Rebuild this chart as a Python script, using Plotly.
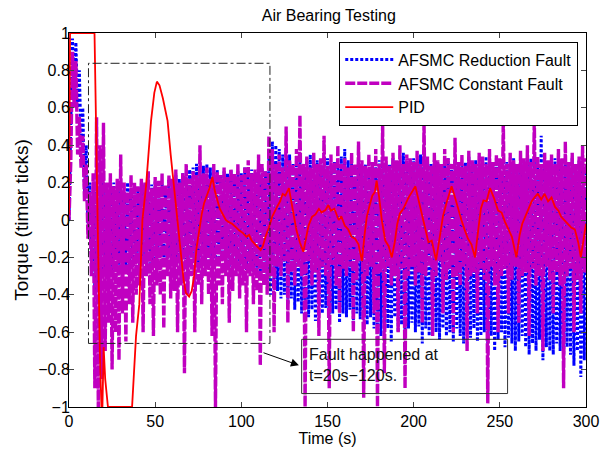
import plotly.graph_objects as go

# ---------------- data ----------------
# Noisy AFSMC series: upper excursions at even seconds, lower excursions at odd seconds
blue_hi = [0.0, 0.97, 0.95, 0.8, 0.6, 0.4, 0.2, 0.05, 0.15, 0.18,
           0.2, 0.15, 0.18, 0.2, 0.16, 0.19, 0.15, 0.2, 0.17, 0.18,
           0.16, 0.2, 0.18, 0.15, 0.19, 0.21, 0.17, 0.2, 0.18, 0.22,
           0.2, 0.24, 0.22, 0.25, 0.23, 0.27, 0.28, 0.3, 0.26, 0.29,
           0.3, 0.28, 0.25, 0.27, 0.24, 0.26, 0.25, 0.27, 0.24, 0.26,
           0.25, 0.28, 0.26, 0.27, 0.25, 0.3, 0.28, 0.26, 0.38, 0.42,
           0.4, 0.38, 0.35, 0.33, 0.35, 0.3, 0.32, 0.34, 0.3, 0.33,
           0.35, 0.3, 0.32, 0.28, 0.3, 0.33, 0.29, 0.31, 0.3, 0.34,
           0.38, 0.32, 0.3, 0.29, 0.31, 0.28, 0.3, 0.25, 0.27, 0.3,
           0.32, 0.3, 0.28, 0.3, 0.33, 0.31, 0.3, 0.36, 0.3, 0.32,
           0.33, 0.3, 0.35, 0.37, 0.34, 0.3, 0.32, 0.3, 0.29, 0.31,
           0.33, 0.3, 0.32, 0.28, 0.3, 0.31, 0.34, 0.3, 0.32, 0.3,
           0.31, 0.34, 0.32, 0.3, 0.33, 0.3, 0.32, 0.31, 0.3, 0.33,
           0.3, 0.35, 0.32, 0.3, 0.33, 0.31, 0.3, 0.45, 0.32, 0.3,
           0.31, 0.33, 0.3, 0.32, 0.3, 0.31, 0.33, 0.3, 0.32, 0.31,
           0.3]
blue_lo = [0.5, 0.7, 0.6, 0.4, 0.15, -0.05, -0.2, -0.38, -0.35, -0.3,
           -0.28, -0.25, -0.3, -0.27, -0.24, -0.3, -0.26, -0.28, -0.25, -0.22,
           -0.24, -0.22, -0.2, -0.25, -0.22, -0.24, -0.2, -0.23, -0.21, -0.2,
           -0.22, -0.2, -0.24, -0.21, -0.23, -0.2, -0.22, -0.25, -0.2, -0.23,
           -0.22, -0.25, -0.21, -0.24, -0.2, -0.23, -0.25, -0.22, -0.26, -0.24,
           -0.25, -0.27, -0.24, -0.28, -0.26, -0.3, -0.28, -0.35, -0.4, -0.35,
           -0.38, -0.42, -0.4, -0.45, -0.42, -0.48, -0.44, -0.5, -0.46, -0.52,
           -0.48, -0.54, -0.45, -0.5, -0.47, -0.52, -0.5, -0.48, -0.55, -0.5,
           -0.52, -0.48, -0.55, -0.5, -0.53, -0.49, -0.56, -0.52, -0.58, -0.6,
           -0.62, -0.55, -0.58, -0.65, -0.52, -0.6, -0.56, -0.62, -0.58, -0.55,
           -0.6, -0.57, -0.66, -0.58, -0.62, -0.56, -0.6, -0.64, -0.58, -0.62,
           -0.6, -0.65, -0.58, -0.62, -0.66, -0.6, -0.63, -0.58, -0.65, -0.62,
           -0.6, -0.66, -0.62, -0.7, -0.64, -0.6, -0.68, -0.63, -0.66, -0.7,
           -0.65, -0.62, -0.68, -0.72, -0.66, -0.7, -0.64, -0.75, -0.68, -0.7,
           -0.72, -0.66, -0.7, -0.75, -0.68, -0.72, -0.78, -0.7, -0.84, -0.75]

mag_hi = [0.0, 0.9, 0.85, 0.55, 0.45, 0.3, 0.15, 0.25, 0.55, 0.4,
          0.52, 0.2, 0.25, 0.18, 0.22, 0.35, 0.2, 0.15, 0.24, 0.2,
          0.18, 0.22, 0.2, 0.26, 0.17, 0.23, 0.21, 0.25, 0.19, 0.24,
          0.22, 0.27, 0.2, 0.25, 0.3, 0.22, 0.26, 0.24, 0.4, 0.25,
          0.28, 0.22, 0.3, 0.26, 0.24, 0.28, 0.23, 0.27, 0.25, 0.3,
          0.24, 0.28, 0.32, 0.25, 0.27, 0.35, 0.3, 0.26, 0.45, 0.38,
          0.3, 0.35, 0.28, 0.5, 0.32, 0.3, 0.38, 0.56, 0.3, 0.34,
          0.28, 0.36, 0.3, 0.33, 0.45, 0.29, 0.35, 0.31, 0.4, 0.3,
          0.33, 0.28, 0.36, 0.3, 0.42, 0.32, 0.29, 0.35, 0.31, 0.38,
          0.3, 0.52, 0.34, 0.29, 0.36, 0.32, 0.4, 0.3, 0.35, 0.33,
          0.31, 0.37, 0.3, 0.53, 0.34, 0.29, 0.36, 0.32, 0.3, 0.38,
          0.33, 0.3, 0.44, 0.31, 0.35, 0.29, 0.37, 0.32, 0.3, 0.36,
          0.34, 0.3, 0.38, 0.31, 0.35, 0.33, 0.54, 0.3, 0.36, 0.32,
          0.3, 0.37, 0.33, 0.4, 0.31, 0.55, 0.34, 0.3, 0.36, 0.32,
          0.35, 0.3, 0.38, 0.33, 0.42, 0.31, 0.36, 0.3, 0.34, 0.4,
          0.33]
mag_lo = [0.3, 0.6, 0.35, 0.28, 0.1, -0.1, -0.3, -0.9, -1.0, -0.85,
          -0.7, -0.55, -0.8, -0.6, -0.75, -0.5, -0.65, -0.45, -0.55, -0.4,
          -0.35, -0.6, -0.3, -0.45, -0.62, -0.35, -0.4, -0.58, -0.3, -0.42,
          -0.38, -0.6, -0.35, -0.82, -0.4, -0.3, -0.6, -0.35, -0.45, -0.3,
          -0.4, -0.62, -1.0, -0.35, -0.45, -0.3, -0.55, -0.38, -0.3, -0.42,
          -0.35, -0.6, -0.3, -0.45, -0.38, -0.78, -0.35, -0.4, -0.3, -0.6,
          -0.25, -0.3, -0.22, -0.55, -0.28, -0.35, -0.25, -0.3, -1.0, -0.22,
          -0.35, -0.28, -0.62, -0.25, -0.3, -0.9, -0.24, -0.35, -0.5, -0.26,
          -0.3, -0.25, -0.6, -0.32, -0.22, -0.95, -0.3, -0.25, -0.5, -1.0,
          -0.28, -0.82, -0.25, -0.35, -0.3, -0.6, -0.26, -0.9, -0.3, -0.25,
          -0.35, -0.28, -0.55, -0.3, -0.25, -0.62, -0.3, -0.22, -0.5, -0.32,
          -0.26, -0.6, -0.3, -0.35, -0.25, -0.7, -0.3, -0.28, -0.5, -0.26,
          -0.32, -0.98, -0.25, -0.35, -0.6, -0.3, -0.26, -0.5, -0.32, -0.25,
          -0.55, -0.3, -0.28, -0.62, -0.26, -0.35, -0.3, -0.7, -0.25, -0.32,
          -0.5, -0.28, -0.35, -0.9, -0.3, -0.26, -0.6, -0.32, -0.5, -0.28]

pid_t = [0, 0.6, 14.8, 15.7, 16.8, 17.9, 18.8, 19.4, 20.1, 21.0, 22.6, 36.6, 38.9, 40.8,
         42.6, 44.7, 47.6, 49.5, 51.0, 52.5, 54.5, 57.2, 59, 61, 63, 64.9, 66.5, 67.8,
         69.7, 71.2, 72.6, 74, 75.5, 77, 78.4, 80, 81.5, 83.2, 84.5, 86.1, 87.5, 89, 91,
         92.5, 94.6, 96.5, 98.7, 101, 103, 104.5, 106, 108, 110, 111.2, 112.5, 114, 116,
         118, 120.7, 122.5, 124, 125.5, 127.6, 129, 130.5, 132, 134, 136, 137.5, 139, 141,
         143, 145, 146.5, 148.8, 150.5, 152, 154, 156.5, 158, 160, 162, 164, 166, 168, 170,
         171.5, 172.8, 174.5, 176, 177.5, 178.5, 180, 181.5, 183.5, 185.5, 187.3, 189,
         190.5, 192, 194, 195.5, 197, 199, 201, 203, 205, 207, 208.6, 210.5, 213, 215, 217,
         219, 220.5, 222, 224, 226, 227.7, 229.5, 231.5, 233.5, 235.6, 237.5, 239, 240.5,
         242.3, 244.3, 246.5, 249, 251, 253, 255, 257, 259.6, 261.5, 263, 264.6, 266.5,
         268.5, 270.4, 272, 274, 276, 278, 280, 282, 284, 285.6, 287.5, 289.5, 291.4,
         293.5, 295.5, 297, 299.3, 300]
pid_y = [0.03, 1.0, 1.0, 0.5, -0.2, -0.7, -1.0, -1.0, -0.68, -0.85, -1.0, -1.0, -0.62, -0.45,
         0.0, 0.18, 0.53, 0.68, 0.74, 0.72, 0.65, 0.53, 0.35, 0.18, 0.0, -0.18, -0.32, -0.39,
         -0.41, -0.38, -0.3, -0.15, -0.055, 0.03, 0.09, 0.13, 0.17, 0.23, 0.16, 0.106, 0.06,
         0.035, 0.0, -0.01, -0.02, -0.035, -0.055, -0.07, -0.09, -0.08, -0.11, -0.13, -0.15,
         -0.16, -0.14, -0.09, -0.04, 0.02, 0.07, 0.1, 0.14, 0.13, 0.17, 0.1, 0.02, -0.055,
         -0.12, -0.17, -0.1, -0.03, 0.017, 0.03, 0.06, 0.04, 0.053, 0.08, 0.05, 0.06, 0.0,
         0.02, -0.03, -0.05, -0.09, -0.1, -0.13, -0.22, -0.08, 0.017, 0.08, 0.13, 0.15, 0.21,
         0.12, 0.0, -0.11, -0.14, -0.2, -0.12, -0.02, 0.035, 0.06, 0.09, 0.12, 0.15, 0.18,
         0.1, 0.02, -0.06, -0.12, -0.11, -0.215, -0.1, 0.02, 0.09, 0.14, 0.18, 0.12, 0.05,
         0.0, -0.05, -0.1, -0.13, -0.2, -0.05, 0.06, 0.105, 0.1, 0.17, 0.12, 0.05, 0.04,
         -0.01, -0.055, -0.09, -0.2, -0.08, -0.02, 0.017, 0.06, 0.1, 0.124, 0.14, 0.11, 0.14,
         0.1, 0.12, 0.07, 0.05, 0.017, 0.0, -0.02, -0.04, -0.05, -0.12, -0.2, -0.055, -0.02]

x_ticks = [0, 50, 100, 150, 200, 250, 300]
y_ticks = [-1, -0.8, -0.6, -0.4, -0.2, 0, 0.2, 0.4, 0.6, 0.8, 1]
y_tick_text = ["\u22121", "\u22120.8", "\u22120.6", "\u22120.4", "\u22120.2", "0",
               "0.2", "0.4", "0.6", "0.8", "1"]

# zoom box (dash-dot) and note box, in data units
zoom_box = dict(x0=11.3, x1=116.6, y0=-0.66, y1=0.838)
note_box = dict(x0=135, x1=254.5, y0=-0.928, y1=-0.638)


def interleave(hi, lo):
    t, y = [], []
    for i, h in enumerate(hi):
        t.append(2 * i)
        y.append(h)
        if i < len(lo):
            t.append(2 * i + 1)
            y.append(lo[i])
    return t, y


bt, by = interleave(blue_hi, blue_lo)
mt, my = interleave(mag_hi, mag_lo)

FONT = "Liberation Sans, Arial, Helvetica, sans-serif"

fig = go.Figure()
fig.add_trace(go.Scatter(x=bt, y=by, mode="lines", name="AFSMC Reduction Fault",
                         line=dict(color="#0000FF", width=3, dash="3px,2px")))
fig.add_trace(go.Scatter(x=mt, y=my, mode="lines", name="AFSMC Constant Fault",
                         line=dict(color="#C000C0", width=3.4, dash="10px,2px")))
fig.add_trace(go.Scatter(x=pid_t, y=pid_y, mode="lines", name="PID",
                         line=dict(color="#FF0000", width=1.8)))

fig.add_shape(type="rect", xref="x", yref="y", **zoom_box,
              line=dict(color="#222222", width=1, dash="dashdot"))
fig.add_shape(type="rect", xref="x", yref="y", **note_box,
              line=dict(color="#333333", width=1))
fig.add_annotation(x=note_box["x0"] + 3, y=-0.775, xref="x", yref="y",
                   text="Fault happened at<br>t=20s\u2212120s.", showarrow=False,
                   xanchor="left", yanchor="middle", align="left",
                   font=dict(family=FONT, size=16, color="#111111"))
fig.add_annotation(x=133.4, y=-0.777, ax=112, ay=-0.707, xref="x", yref="y",
                   axref="x", ayref="y", text="", showarrow=True,
                   arrowhead=2, arrowsize=1.6, arrowwidth=1, arrowcolor="#000000")

fig.update_layout(
    width=600, height=454,
    margin=dict(l=69, r=14, t=33, b=47, autoexpand=False),
    paper_bgcolor="white", plot_bgcolor="white",
    font=dict(family=FONT, size=16, color="#000000"),
    title=dict(text="Air Bearing Testing", x=0.548, xanchor="center", y=0.965,
               yanchor="middle", font=dict(family=FONT, size=16)),
    showlegend=True,
    legend=dict(x=0.985, xanchor="right", y=0.977, yanchor="top",
                bgcolor="white", bordercolor="#000000", borderwidth=1,
                font=dict(family=FONT, size=16), tracegroupgap=0, itemwidth=48),
    xaxis=dict(range=[0, 300], tickvals=x_ticks, ticks="inside", ticklen=5,
               showline=True, linecolor="#000000", linewidth=1, mirror="ticks",
               showgrid=False, zeroline=False, automargin=False,
               ticklabeloverflow="allow",
               tickfont=dict(size=16),
               title=dict(text="Time (s)", standoff=2, font=dict(size=16))),
    yaxis=dict(range=[-1, 1], tickvals=y_ticks, ticktext=y_tick_text, ticks="inside",
               ticklen=5, showline=True, linecolor="#000000", linewidth=1,
               mirror="ticks", showgrid=False, zeroline=False, automargin=False,
               ticklabeloverflow="allow", ticklabelstandoff=-5,
               tickfont=dict(size=16),
               title=dict(text="Torque (timer ticks)", standoff=4, font=dict(size=19))),
)

fig.write_html("out.html")
